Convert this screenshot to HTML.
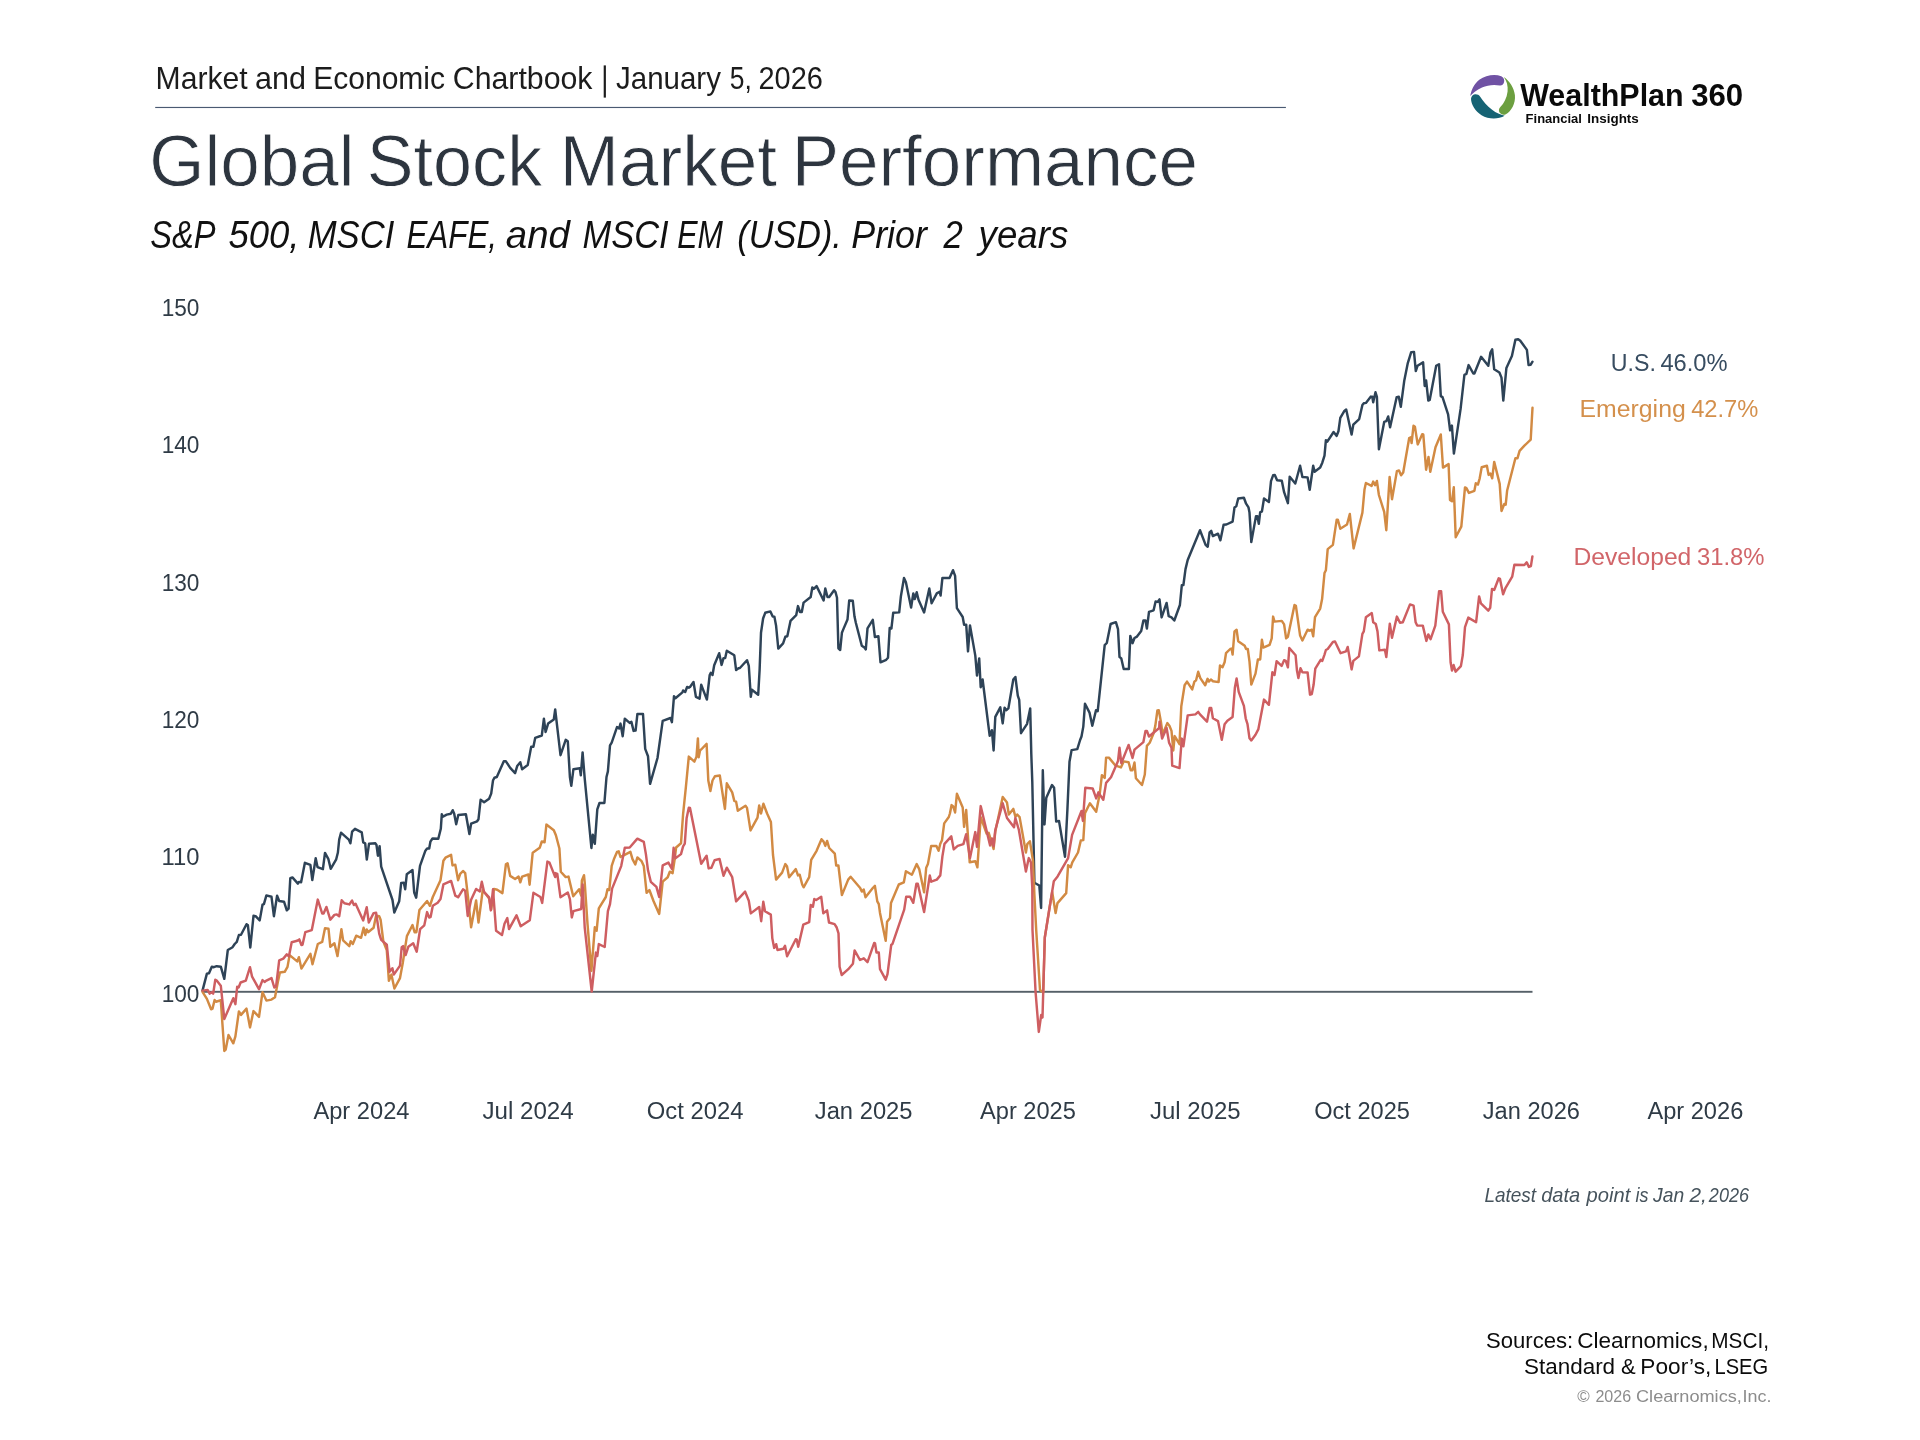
<!DOCTYPE html>
<html><head><meta charset="utf-8"><title>Global Stock Market Performance</title>
<style>
html,body{margin:0;padding:0;background:#fff;}
body{width:1920px;height:1440px;overflow:hidden;font-family:"Liberation Sans",sans-serif;}
svg{position:absolute;left:0;top:0;display:block;will-change:transform;}
svg text{font-family:"Liberation Sans",sans-serif;}
</style></head><body>
<svg width="1920" height="1440" viewBox="0 0 1920 1440">
<rect width="1920" height="1440" fill="#ffffff"/>
<rect x="155.2" y="106.9" width="1130.7" height="1.15" fill="#4a5a72"/>
<rect x="603.7" y="65.4" width="2.2" height="32.2" fill="#1c1c1c"/>
<!-- logo -->
<g transform="translate(1460,64) scale(0.045851)">
<path d="M225,700 C235,600 300,440 420,345 C560,240 760,215 900,265 C960,290 975,350 960,400 C945,450 910,475 870,470 C740,440 600,460 480,510 C360,560 270,640 225,700 Z" fill="#7052a4"/>
<path d="M955,285 C1080,370 1180,520 1198,680 C1215,860 1120,1030 1000,1095 C950,1120 890,1100 862,1060 C840,1025 845,975 880,940 C960,860 1020,740 1038,600 C1050,480 1020,370 955,285 Z" fill="#6c9f40"/>
<path d="M340,662 C290,660 245,700 240,760 C240,880 330,1030 470,1120 C620,1210 830,1215 975,1130 C880,1110 790,1070 700,1000 C590,915 500,810 440,715 C415,680 380,662 340,662 Z" fill="#166374"/>
</g>
<!-- baseline -->
<rect x="202.5" y="990.85" width="1330" height="1.9" fill="#566068"/>
<!-- series -->
<g fill="none" stroke-width="2.45" stroke-linejoin="round" stroke-linecap="round">
<path d="M202.5,990.6 L206.9,973.6 L209.0,973.2 L211.8,966.7 L213.9,967.2 L216.7,966.2 L220.8,966.7 L224.3,978.8 L227.8,950.0 L232.6,947.2 L234.7,944.0 L236.8,941.9 L238.9,935.0 L241.0,934.7 L246.5,924.2 L247.9,925.3 L250.3,947.5 L253.5,915.8 L255.6,916.2 L259.7,920.4 L262.5,904.7 L263.9,904.2 L266.4,895.4 L271.5,896.8 L273.9,916.2 L277.1,895.8 L279.2,901.0 L284.0,901.7 L286.8,910.3 L288.6,908.6 L290.3,878.1 L292.4,877.4 L297.9,883.6 L298.9,881.9 L301.1,882.2 L304.9,862.8 L310.4,864.9 L312.3,880.0 L315.7,858.3 L317.5,867.1 L322.9,869.2 L325.0,852.9 L328.3,858.8 L330.7,868.8 L336.2,859.3 L337.9,852.5 L339.2,839.6 L341.0,832.7 L348.8,839.6 L350.4,843.3 L352.1,831.7 L355.0,828.8 L361.7,832.3 L363.2,842.3 L365.2,843.3 L366.8,859.6 L369.0,843.8 L375.4,843.3 L376.5,845.0 L377.9,855.7 L379.6,846.2 L381.2,866.7 L392.5,900.0 L394.3,912.5 L399.2,901.2 L401.2,882.9 L403.8,882.7 L405.2,889.2 L406.8,874.2 L412.5,870.0 L414.2,892.5 L416.2,897.7 L420.0,865.8 L425.4,850.7 L427.1,848.5 L429.2,848.5 L430.4,841.7 L432.5,838.5 L438.3,838.8 L440.8,828.8 L441.8,814.2 L442.9,816.7 L446.7,814.6 L450.8,813.8 L452.7,810.2 L454.2,813.8 L456.2,824.2 L458.3,815.0 L465.9,814.3 L469.4,834.0 L471.1,823.7 L477.1,821.3 L478.5,819.2 L480.6,799.8 L484.1,802.3 L489.1,798.8 L491.2,793.6 L493.0,780.5 L494.4,777.7 L496.8,777.0 L503.8,761.3 L505.9,761.3 L510.2,767.9 L515.1,773.1 L517.2,766.1 L520.3,762.3 L522.1,769.3 L527.7,765.1 L531.2,746.8 L533.4,746.8 L535.2,737.9 L541.8,735.5 L543.9,718.7 L545.6,732.0 L548.1,723.6 L553.8,719.4 L555.2,709.5 L560.5,755.2 L565.7,739.8 L567.8,741.2 L569.9,777.0 L571.3,785.8 L573.4,769.3 L579.8,768.3 L580.8,775.3 L582.6,752.4 L584.7,778.4 L591.4,848.0 L592.8,834.7 L594.8,843.8 L597.3,809.4 L599.5,803.0 L604.4,803.0 L606.5,777.0 L607.9,771.4 L610.0,745.4 L611.7,742.6 L617.0,727.1 L619.1,728.5 L620.5,723.6 L622.7,736.2 L624.8,718.7 L629.7,722.9 L631.4,721.9 L633.6,730.9 L635.6,730.6 L637.4,714.0 L643.0,714.0 L645.2,748.9 L648.0,756.2 L650.1,783.8 L657.5,758.0 L662.7,720.8 L670.5,718.0 L671.9,722.2 L674.0,696.2 L675.4,698.3 L682.4,692.4 L683.1,690.5 L685.2,692.0 L687.1,687.0 L688.8,687.7 L690.0,687.0 L693.5,682.0 L695.9,696.8 L699.6,698.6 L701.2,684.8 L706.9,699.6 L709.7,675.0 L710.8,672.9 L712.5,675.0 L714.2,665.2 L719.2,653.2 L721.6,664.9 L723.5,658.1 L725.2,658.1 L726.8,650.8 L734.3,655.3 L736.1,670.1 L738.5,668.2 L739.9,668.0 L747.0,660.2 L748.8,665.9 L750.8,696.8 L751.9,689.8 L758.2,694.7 L759.6,670.1 L761.0,632.8 L763.1,618.5 L765.2,612.8 L770.4,611.4 L772.7,616.6 L774.4,616.6 L776.1,625.8 L778.3,648.6 L783.1,643.4 L785.3,636.8 L787.3,636.3 L790.5,620.9 L796.2,615.2 L798.0,606.1 L800.0,612.0 L801.8,612.0 L803.6,602.6 L810.7,597.0 L812.3,587.5 L813.8,588.9 L816.6,586.1 L823.6,600.5 L825.3,588.5 L827.5,597.0 L829.2,597.0 L834.1,590.3 L835.5,592.0 L837.0,597.7 L838.4,648.3 L840.2,650.0 L841.9,632.8 L843.6,628.6 L847.5,619.5 L849.2,600.5 L852.8,600.8 L854.5,616.6 L855.9,623.0 L861.8,645.8 L864.4,647.6 L865.8,649.4 L867.5,628.3 L872.8,619.9 L874.9,637.0 L878.4,636.3 L880.5,662.3 L886.2,659.8 L888.0,657.8 L889.7,627.9 L891.4,628.6 L893.2,612.8 L899.2,612.4 L900.9,596.2 L904.0,578.0 L905.9,582.2 L911.1,607.5 L913.3,593.4 L914.7,599.1 L916.7,592.3 L918.5,599.8 L924.1,612.4 L929.3,588.5 L931.6,603.3 L936.8,593.4 L939.6,591.8 L940.6,595.5 L942.4,578.0 L949.5,578.0 L953.0,570.2 L955.1,575.9 L956.9,608.2 L962.7,617.0 L964.1,624.7 L966.2,624.7 L968.0,651.4 L970.0,625.4 L975.3,655.6 L977.0,675.6 L979.2,658.4 L980.7,687.3 L982.6,679.5 L989.7,735.8 L991.9,730.2 L993.6,750.5 L995.3,716.8 L1000.3,707.4 L1002.7,723.4 L1004.6,707.7 L1006.2,710.2 L1008.4,708.4 L1013.3,679.5 L1015.4,677.0 L1017.8,695.7 L1019.2,699.9 L1021.0,733.2 L1027.1,723.8 L1030.2,708.4 L1031.3,754.1 L1032.3,782.2 L1034.4,882.7 L1039.3,885.5 L1041.1,908.0 L1042.8,770.2 L1044.5,824.4 L1046.3,797.7 L1052.0,785.0 L1054.1,787.8 L1056.2,821.6 L1059.0,820.9 L1065.0,856.7 L1067.4,809.6 L1069.5,761.8 L1071.6,750.1 L1077.3,749.1 L1080.1,740.0 L1081.5,736.5 L1083.3,726.6 L1085.0,703.7 L1089.5,712.6 L1092.3,725.7 L1096.0,710.2 L1097.7,711.2 L1104.7,645.1 L1106.8,643.0 L1110.6,624.0 L1115.9,622.2 L1118.0,629.2 L1119.5,657.0 L1121.3,658.4 L1123.7,669.0 L1128.9,669.0 L1130.3,635.9 L1132.5,643.2 L1134.5,638.0 L1137.0,636.6 L1141.2,631.0 L1143.4,620.5 L1145.5,620.5 L1146.9,628.6 L1149.0,611.8 L1153.6,610.3 L1155.6,601.5 L1157.8,601.9 L1159.5,599.4 L1161.6,617.4 L1166.6,602.9 L1168.7,616.2 L1171.5,617.4 L1174.3,620.5 L1179.9,605.0 L1181.8,585.3 L1183.4,585.0 L1185.5,569.1 L1187.7,560.0 L1200.0,530.2 L1205.6,544.9 L1207.7,546.8 L1209.6,532.3 L1211.2,530.9 L1212.9,536.1 L1218.0,533.7 L1220.4,540.3 L1223.6,524.8 L1226.4,524.5 L1232.6,521.7 L1234.5,507.4 L1236.3,506.2 L1238.2,498.5 L1243.9,497.8 L1246.1,503.7 L1248.5,507.4 L1249.5,512.6 L1251.3,542.1 L1256.0,516.1 L1257.4,516.1 L1258.8,523.8 L1260.2,512.2 L1261.9,511.6 L1264.0,498.5 L1268.9,502.0 L1271.0,481.2 L1273.1,475.3 L1274.8,475.0 L1277.1,480.2 L1281.8,480.7 L1284.1,492.2 L1287.9,503.2 L1289.7,476.7 L1295.3,483.5 L1300.1,465.8 L1302.4,477.0 L1307.6,477.4 L1309.7,489.7 L1313.2,465.8 L1314.6,471.8 L1320.2,467.6 L1322.3,462.7 L1324.5,455.6 L1325.9,440.2 L1327.3,441.6 L1333.6,432.0 L1336.7,435.9 L1338.5,431.0 L1340.3,417.9 L1344.1,411.3 L1346.2,409.5 L1351.6,434.5 L1353.3,424.7 L1359.2,419.1 L1362.4,405.0 L1363.8,403.3 L1365.9,402.9 L1370.9,396.6 L1372.3,396.8 L1373.2,402.2 L1375.5,392.3 L1376.9,396.8 L1378.9,449.3 L1384.2,421.9 L1386.3,421.2 L1388.2,416.5 L1390.1,427.2 L1396.7,397.1 L1398.8,396.7 L1400.8,406.8 L1404.3,380.4 L1407.8,363.1 L1411.2,352.2 L1414.0,351.9 L1415.8,371.1 L1417.5,365.8 L1423.1,362.4 L1424.7,386.0 L1426.1,380.4 L1428.3,400.6 L1429.7,399.9 L1436.2,365.8 L1439.0,364.2 L1440.8,396.1 L1442.5,397.1 L1448.1,414.4 L1450.1,430.4 L1451.9,425.6 L1453.9,453.6 L1460.6,408.9 L1464.4,374.9 L1466.4,373.9 L1468.6,365.1 L1473.3,373.5 L1474.4,373.5 L1481.1,356.8 L1488.3,365.8 L1490.4,352.6 L1492.2,349.4 L1494.2,369.3 L1499.4,372.5 L1501.5,377.6 L1503.3,400.6 L1506.4,367.9 L1511.9,356.1 L1515.4,339.7 L1518.2,339.2 L1520.3,340.8 L1526.9,349.9 L1528.6,365.1 L1530.7,364.7 L1532.5,361.7" stroke="#2e4357"/>
<path d="M202.5,991.9 L206.9,998.9 L211.1,1009.3 L212.5,1008.6 L214.6,1000.0 L216.0,1001.7 L220.8,1000.3 L224.3,1051.0 L225.7,1049.6 L228.5,1035.0 L233.3,1043.3 L235.4,1036.4 L238.9,1011.4 L241.0,1014.9 L246.5,1008.6 L250.0,1027.4 L253.5,1011.1 L259.0,1016.9 L262.5,992.2 L266.4,1000.6 L271.5,999.6 L275.0,997.2 L277.8,982.2 L279.9,972.5 L284.7,971.8 L287.5,966.9 L289.6,955.1 L297.2,961.4 L298.9,957.2 L301.4,968.6 L310.4,953.8 L312.5,964.2 L317.8,944.0 L322.2,941.9 L325.0,928.3 L328.5,928.8 L330.3,946.8 L334.4,943.3 L337.5,956.1 L341.4,929.2 L343.1,940.3 L349.3,946.1 L350.7,941.2 L352.8,944.0 L356.2,935.7 L361.1,937.8 L363.6,927.8 L365.3,935.0 L366.7,929.4 L368.1,932.2 L373.6,927.8 L376.1,915.6 L379.2,916.2 L380.6,919.7 L383.3,941.2 L386.8,950.3 L388.9,980.8 L391.4,974.6 L394.4,988.5 L400.0,978.1 L402.8,962.8 L406.9,936.1 L412.5,925.0 L414.6,932.2 L416.4,932.2 L419.4,910.0 L427.1,901.0 L429.9,905.8 L432.8,897.0 L440.5,880.2 L443.4,860.8 L445.5,857.7 L451.1,854.8 L452.5,865.4 L455.3,864.7 L458.1,880.2 L460.2,873.8 L463.0,871.0 L465.2,873.1 L468.0,897.0 L471.1,927.3 L476.1,900.5 L478.5,922.6 L482.7,890.3 L486.2,894.5 L489.1,898.4 L491.2,909.7 L494.0,888.9 L497.2,889.7 L502.4,893.1 L505.9,864.4 L507.6,863.3 L510.2,875.9 L515.1,879.0 L518.6,876.6 L520.3,882.3 L522.1,876.6 L528.4,874.5 L529.6,884.7 L532.7,852.7 L539.7,847.8 L541.8,841.5 L544.6,842.2 L546.4,824.6 L553.8,830.2 L555.9,835.2 L559.4,848.5 L560.8,871.7 L565.7,877.1 L568.5,876.6 L573.2,896.3 L579.1,889.3 L581.2,895.6 L581.9,880.4 L584.0,875.2 L584.7,882.3 L587.5,923.8 L591.4,970.9 L594.8,927.3 L596.6,930.8 L598.8,908.3 L605.8,897.0 L607.5,889.3 L609.3,890.0 L611.7,865.8 L614.2,858.4 L617.0,852.0 L618.7,851.3 L620.5,857.0 L624.1,855.1 L630.4,851.8 L632.5,859.1 L635.3,864.4 L637.4,857.4 L641.6,861.2 L643.8,866.1 L646.6,892.8 L649.4,890.0 L653.6,901.2 L659.2,913.9 L662.7,881.6 L667.7,877.3 L669.8,871.7 L672.6,873.1 L674.7,859.1 L676.1,847.5 L681.0,843.3 L683.1,814.1 L685.9,786.9 L688.8,756.6 L694.4,761.6 L696.5,756.6 L697.9,738.4 L698.7,757.3 L700.1,750.2 L701.2,749.5 L706.6,743.9 L708.3,780.5 L710.4,791.0 L712.5,780.5 L715.0,776.2 L719.8,775.5 L724.9,808.9 L726.8,783.3 L732.2,792.4 L734.3,800.9 L736.1,801.6 L737.8,810.7 L745.5,805.8 L747.0,807.9 L750.5,830.4 L757.5,817.7 L759.2,805.5 L761.0,813.5 L763.4,803.7 L767.1,813.5 L770.9,822.0 L773.0,855.0 L776.1,879.6 L782.1,872.6 L785.3,864.1 L787.0,866.2 L789.1,877.2 L795.8,869.1 L798.0,875.4 L799.7,874.7 L802.2,884.5 L803.6,887.3 L809.2,877.2 L811.2,859.9 L816.6,850.8 L821.5,839.2 L823.6,841.6 L825.3,845.9 L827.1,840.9 L829.2,848.0 L834.8,853.6 L836.2,865.5 L838.4,865.5 L841.9,895.1 L848.2,879.6 L850.6,876.8 L860.2,888.0 L861.8,891.6 L863.7,889.5 L865.5,897.2 L872.8,888.0 L874.9,885.9 L877.3,901.4 L878.8,904.2 L880.0,912.9 L885.7,940.8 L887.1,921.7 L890.0,917.9 L891.0,902.9 L898.8,884.5 L903.8,882.4 L905.9,871.2 L911.9,874.7 L916.7,864.1 L919.2,869.1 L924.1,892.3 L926.2,867.7 L927.9,864.1 L931.2,845.9 L936.4,845.9 L938.6,850.8 L940.3,843.8 L942.0,840.2 L944.2,823.4 L948.8,817.0 L949.9,813.5 L951.6,805.1 L953.2,806.5 L955.1,812.5 L956.9,793.8 L962.7,807.5 L964.1,826.9 L966.2,810.0 L969.7,862.3 L975.3,861.2 L977.4,867.3 L980.7,817.1 L986.6,833.5 L988.7,832.8 L993.6,849.0 L995.3,831.4 L1002.7,797.0 L1007.0,802.6 L1008.8,814.5 L1013.3,808.9 L1015.4,816.6 L1017.2,814.5 L1019.6,817.1 L1025.9,852.5 L1027.3,844.1 L1029.9,841.2 L1033.0,860.9 L1034.4,894.7 L1036.2,930.0 L1040.0,990.0 L1043.2,992.5 L1044.8,937.5 L1050.0,905.0 L1052.2,891.9 L1055.6,913.1 L1057.5,903.1 L1066.2,893.1 L1068.1,865.2 L1070.7,867.3 L1072.3,862.3 L1078.0,852.5 L1080.8,840.5 L1083.3,840.1 L1085.0,813.1 L1089.9,803.3 L1096.2,811.7 L1099.8,793.4 L1101.9,775.2 L1104.7,778.0 L1106.1,757.6 L1108.9,757.6 L1115.2,765.3 L1120.9,767.4 L1123.7,761.4 L1128.6,762.2 L1130.7,770.2 L1132.5,770.2 L1134.5,762.5 L1135.9,778.2 L1142.0,785.0 L1144.8,774.5 L1146.9,745.9 L1149.7,742.8 L1153.6,733.2 L1155.3,725.9 L1157.4,710.5 L1158.8,710.2 L1160.9,721.7 L1162.6,734.4 L1167.3,723.1 L1169.4,725.7 L1171.5,730.9 L1173.3,750.5 L1174.7,736.1 L1179.5,744.2 L1181.3,706.2 L1184.6,685.2 L1187.0,681.6 L1192.2,689.4 L1194.4,681.6 L1196.1,680.2 L1198.2,671.8 L1200.3,678.1 L1205.2,685.2 L1207.6,678.8 L1208.8,681.6 L1210.9,679.5 L1213.0,681.2 L1218.6,682.1 L1220.0,665.4 L1222.5,667.3 L1224.6,662.3 L1226.0,653.2 L1230.2,649.0 L1231.6,648.6 L1232.6,654.6 L1234.5,631.4 L1236.6,629.7 L1238.2,641.2 L1244.7,645.8 L1246.1,649.0 L1247.8,649.0 L1249.5,661.6 L1251.3,684.6 L1255.5,673.6 L1257.9,659.5 L1260.2,659.5 L1261.9,639.8 L1263.3,647.6 L1269.6,644.8 L1271.7,638.4 L1273.1,616.6 L1274.5,621.6 L1281.8,620.9 L1284.1,624.4 L1286.1,638.4 L1287.9,636.8 L1294.5,605.0 L1295.9,605.8 L1300.1,635.6 L1302.4,640.5 L1307.6,629.7 L1309.7,630.7 L1311.8,629.7 L1313.2,636.3 L1315.0,617.1 L1320.2,608.6 L1322.1,599.1 L1324.5,573.0 L1325.9,570.2 L1327.7,549.1 L1332.9,544.9 L1336.7,519.6 L1337.8,519.6 L1340.3,528.8 L1347.0,524.5 L1349.8,514.0 L1353.6,548.4 L1362.4,512.6 L1364.5,489.4 L1365.9,483.0 L1371.6,485.9 L1373.2,481.6 L1375.1,485.2 L1376.9,480.9 L1378.9,495.0 L1384.2,511.9 L1386.3,530.2 L1389.6,477.0 L1392.0,499.2 L1396.9,471.1 L1399.0,470.4 L1401.1,475.3 L1403.2,472.5 L1409.2,438.0 L1410.7,437.3 L1411.6,443.0 L1413.5,425.8 L1414.9,426.8 L1417.7,444.4 L1422.2,434.2 L1423.3,434.5 L1426.1,469.7 L1428.5,457.0 L1430.3,471.8 L1435.5,447.2 L1440.8,434.5 L1443.0,467.6 L1448.6,464.1 L1450.0,499.9 L1452.0,501.3 L1453.8,487.3 L1455.7,537.2 L1461.3,526.6 L1465.0,487.4 L1466.4,488.1 L1468.9,492.9 L1474.4,490.8 L1475.8,483.2 L1477.9,484.6 L1479.7,478.3 L1481.7,467.2 L1486.9,465.8 L1488.6,474.9 L1490.4,473.5 L1492.2,478.3 L1494.2,461.9 L1499.7,483.9 L1501.5,511.0 L1504.3,504.0 L1505.7,504.7 L1507.1,490.8 L1515.4,458.2 L1517.5,458.2 L1519.6,450.8 L1524.4,445.7 L1530.7,439.7 L1532.5,407.8" stroke="#d28a43"/>
<path d="M202.5,990.6 L207.6,989.9 L209.7,993.6 L211.8,992.2 L213.2,993.6 L215.3,979.7 L216.7,980.6 L220.8,985.7 L224.3,1019.0 L233.3,998.2 L235.4,1004.2 L237.2,986.7 L238.6,987.5 L240.6,982.5 L245.8,980.6 L250.0,967.2 L252.1,976.7 L259.0,989.2 L262.5,980.1 L264.6,981.9 L266.4,980.6 L271.5,978.1 L274.3,987.5 L276.1,986.4 L279.2,960.3 L283.3,958.6 L286.8,954.4 L288.9,956.5 L291.7,942.2 L297.2,940.8 L299.3,939.4 L301.4,945.0 L302.5,944.7 L305.3,932.2 L311.8,930.1 L317.8,899.6 L322.2,913.5 L323.6,913.5 L326.4,906.9 L330.3,919.7 L334.4,914.9 L336.8,914.4 L339.2,916.2 L341.7,900.3 L344.4,903.3 L349.3,904.4 L352.1,900.6 L353.9,905.1 L355.6,903.8 L363.2,920.4 L366.7,907.2 L368.8,922.5 L373.6,913.1 L376.1,912.8 L379.2,933.6 L381.2,939.9 L386.8,944.7 L389.6,971.8 L392.4,968.3 L393.8,974.6 L400.0,965.6 L401.7,947.2 L403.1,946.1 L405.6,955.1 L408.3,946.8 L413.2,943.3 L416.7,951.7 L420.1,929.2 L424.3,925.3 L427.1,912.1 L429.2,917.6 L430.6,916.9 L432.8,905.8 L437.7,902.7 L440.5,899.1 L443.4,884.4 L451.1,880.9 L455.3,895.6 L458.1,897.3 L463.0,889.3 L465.2,890.7 L467.7,916.0 L471.1,899.8 L476.1,888.9 L479.9,891.4 L481.8,881.8 L484.1,892.1 L489.1,897.3 L490.8,910.4 L493.0,889.3 L496.1,930.8 L502.0,935.0 L504.5,923.8 L507.3,918.1 L509.0,929.1 L516.5,915.3 L520.7,926.3 L529.8,920.2 L533.4,892.8 L540.4,897.0 L542.2,902.9 L547.4,861.6 L549.5,862.6 L555.2,877.1 L555.4,873.1 L557.3,873.8 L560.5,897.3 L567.8,892.5 L569.9,899.1 L571.8,917.4 L573.4,911.1 L581.2,909.0 L582.6,884.4 L584.7,927.3 L591.7,991.5 L595.9,952.6 L597.3,956.1 L598.8,944.1 L604.7,947.0 L607.9,911.1 L610.0,904.1 L612.1,888.6 L621.2,866.1 L624.8,847.8 L629.7,847.5 L636.7,839.4 L637.4,838.7 L643.8,841.9 L645.9,854.1 L648.0,870.3 L650.8,881.8 L656.4,886.9 L659.2,897.0 L662.7,865.4 L668.4,862.6 L671.9,868.9 L673.6,847.8 L675.4,858.4 L681.0,854.1 L683.1,846.4 L684.8,843.6 L686.6,818.3 L688.8,807.7 L690.0,807.9 L701.2,863.7 L706.6,855.7 L708.6,868.4 L711.4,867.7 L714.6,860.3 L719.5,858.9 L723.5,875.8 L726.8,867.7 L732.2,877.2 L736.1,901.4 L745.1,891.6 L748.8,900.7 L750.8,913.4 L759.2,907.0 L761.2,921.2 L763.3,901.7 L765.0,911.2 L770.8,914.6 L772.3,938.3 L774.2,947.9 L776.2,944.2 L777.5,950.0 L783.3,948.8 L785.0,945.8 L787.1,956.2 L795.8,939.2 L796.7,939.6 L798.2,946.7 L803.3,924.6 L809.2,922.1 L810.7,905.0 L812.9,906.7 L814.3,899.0 L816.2,900.0 L821.2,896.7 L823.3,913.3 L827.1,910.4 L829.0,922.5 L834.6,924.2 L836.7,927.5 L838.5,933.3 L839.6,966.7 L841.7,975.0 L848.3,969.2 L852.9,963.8 L854.6,950.4 L860.0,960.0 L863.8,958.3 L867.5,962.1 L874.2,942.9 L875.0,943.3 L876.5,952.5 L878.8,952.5 L880.0,969.2 L885.7,979.6 L887.5,974.2 L891.2,945.0 L892.5,943.8 L904.2,909.6 L906.2,896.7 L910.0,896.7 L913.3,902.8 L916.4,883.8 L917.8,883.8 L924.1,912.0 L929.8,875.4 L931.2,881.7 L936.8,879.6 L940.3,875.4 L942.4,856.4 L944.5,843.8 L951.3,836.4 L953.7,849.4 L957.7,845.8 L963.4,844.1 L966.2,834.2 L970.0,858.1 L975.3,832.1 L977.0,846.9 L980.7,806.1 L990.1,845.5 L991.9,838.4 L993.6,846.2 L995.3,830.0 L1002.7,803.3 L1007.0,818.0 L1014.0,827.2 L1015.4,818.0 L1018.9,830.0 L1025.9,871.5 L1028.8,858.1 L1030.9,862.3 L1032.3,887.7 L1032.5,930.0 L1035.6,992.5 L1038.8,1031.9 L1041.2,1015.0 L1042.5,1017.5 L1044.8,937.5 L1053.8,881.2 L1057.6,876.4 L1068.1,858.1 L1072.1,834.9 L1081.5,811.0 L1082.9,820.9 L1085.3,787.8 L1092.7,788.5 L1096.2,798.4 L1098.4,792.3 L1103.3,799.8 L1106.1,782.9 L1111.0,777.3 L1118.0,761.1 L1119.5,747.7 L1121.3,763.2 L1128.6,744.9 L1132.5,758.0 L1134.5,749.6 L1143.4,742.1 L1145.5,730.9 L1146.9,730.9 L1149.0,736.5 L1159.2,728.0 L1159.5,721.7 L1162.1,738.6 L1166.6,728.0 L1169.1,742.8 L1171.5,747.7 L1172.2,765.6 L1179.5,768.1 L1181.8,738.6 L1183.4,746.3 L1187.7,715.4 L1195.4,714.4 L1198.2,711.9 L1200.0,714.4 L1207.0,721.7 L1209.6,708.0 L1211.2,708.0 L1212.9,718.3 L1218.0,721.1 L1221.8,739.7 L1224.6,724.2 L1227.4,720.7 L1232.6,716.9 L1234.9,687.4 L1236.6,678.5 L1238.7,691.9 L1243.9,705.9 L1245.7,718.3 L1247.5,724.2 L1249.5,738.3 L1251.3,740.4 L1255.5,734.8 L1258.4,729.1 L1264.0,699.6 L1268.9,704.8 L1272.4,672.2 L1274.5,675.0 L1276.6,661.2 L1281.6,665.9 L1284.1,660.2 L1285.8,660.9 L1287.9,667.3 L1289.3,648.0 L1295.6,655.3 L1297.0,670.8 L1298.4,678.1 L1300.5,668.2 L1302.4,672.2 L1307.6,672.5 L1310.0,694.7 L1311.8,694.0 L1313.6,684.8 L1315.3,668.7 L1320.7,659.8 L1322.3,660.9 L1324.5,654.6 L1325.9,650.0 L1327.7,649.0 L1332.9,642.0 L1335.0,641.5 L1340.6,653.2 L1346.0,651.4 L1347.7,646.9 L1351.6,669.4 L1353.3,660.9 L1358.9,656.4 L1362.4,633.9 L1363.8,631.4 L1365.9,617.3 L1371.8,613.1 L1373.2,622.3 L1375.8,624.1 L1377.5,631.4 L1379.3,650.4 L1384.9,649.7 L1386.3,657.0 L1389.8,623.7 L1392.0,637.7 L1396.9,616.6 L1400.0,622.8 L1402.8,622.2 L1410.0,604.4 L1413.6,605.6 L1415.6,622.2 L1417.2,625.6 L1422.8,625.6 L1426.4,640.9 L1428.3,634.4 L1430.6,639.1 L1435.3,625.6 L1439.1,591.1 L1441.1,591.1 L1442.8,611.7 L1448.9,624.4 L1450.6,662.2 L1452.0,670.6 L1453.6,665.0 L1455.6,671.7 L1460.9,666.1 L1462.8,655.0 L1465.0,627.2 L1468.3,617.6 L1476.1,622.2 L1479.1,596.4 L1480.9,603.3 L1488.3,610.6 L1490.2,607.8 L1492.0,588.9 L1494.2,590.0 L1498.7,578.3 L1500.0,578.9 L1503.1,594.2 L1505.6,587.8 L1512.2,576.7 L1514.4,564.7 L1524.4,565.0 L1526.7,562.4 L1528.9,566.9 L1530.9,566.1 L1532.4,556.4" stroke="#ce5e61"/>
</g>
<!-- text -->
<text x="155.62" y="89.4" font-size="30.5" fill="#1c1c1c" textLength="92.06" lengthAdjust="spacingAndGlyphs">Market</text>
<text x="255.00" y="89.4" font-size="30.5" fill="#1c1c1c" textLength="50.98" lengthAdjust="spacingAndGlyphs">and</text>
<text x="313.23" y="89.4" font-size="30.5" fill="#1c1c1c" textLength="131.82" lengthAdjust="spacingAndGlyphs">Economic</text>
<text x="452.80" y="89.4" font-size="30.5" fill="#1c1c1c" textLength="139.66" lengthAdjust="spacingAndGlyphs">Chartbook</text>
<text x="616.00" y="89.4" font-size="30.5" fill="#1c1c1c" textLength="104.88" lengthAdjust="spacingAndGlyphs">January</text>
<text x="729.70" y="89.4" font-size="30.5" fill="#1c1c1c" textLength="22.07" lengthAdjust="spacingAndGlyphs">5,</text>
<text x="758.45" y="89.4" font-size="30.5" fill="#1c1c1c" textLength="64.47" lengthAdjust="spacingAndGlyphs">2026</text>
<text x="149.22" y="186.4" font-size="71.6" fill="#2d353f" textLength="205.26" lengthAdjust="spacingAndGlyphs" stroke="#ffffff" stroke-width="0.8">Global</text>
<text x="366.86" y="186.4" font-size="71.6" fill="#2d353f" textLength="175.34" lengthAdjust="spacingAndGlyphs" stroke="#ffffff" stroke-width="0.8">Stock</text>
<text x="559.83" y="186.4" font-size="71.6" fill="#2d353f" textLength="217.27" lengthAdjust="spacingAndGlyphs" stroke="#ffffff" stroke-width="0.8">Market</text>
<text x="791.64" y="186.4" font-size="71.6" fill="#2d353f" textLength="406.35" lengthAdjust="spacingAndGlyphs" stroke="#ffffff" stroke-width="0.8">Performance</text>
<text x="150.36" y="247.7" font-size="39.0" fill="#111111" textLength="65.26" lengthAdjust="spacingAndGlyphs" font-style="italic">S&amp;P</text>
<text x="228.39" y="247.7" font-size="39.0" fill="#111111" textLength="71.02" lengthAdjust="spacingAndGlyphs" font-style="italic">500,</text>
<text x="307.71" y="247.7" font-size="39.0" fill="#111111" textLength="86.55" lengthAdjust="spacingAndGlyphs" font-style="italic">MSCI</text>
<text x="406.39" y="247.7" font-size="39.0" fill="#111111" textLength="90.70" lengthAdjust="spacingAndGlyphs" font-style="italic">EAFE,</text>
<text x="505.79" y="247.7" font-size="39.0" fill="#111111" textLength="64.12" lengthAdjust="spacingAndGlyphs" font-style="italic">and</text>
<text x="582.51" y="247.7" font-size="39.0" fill="#111111" textLength="86.14" lengthAdjust="spacingAndGlyphs" font-style="italic">MSCI</text>
<text x="677.22" y="247.7" font-size="39.0" fill="#111111" textLength="45.78" lengthAdjust="spacingAndGlyphs" font-style="italic">EM</text>
<text x="737.32" y="247.7" font-size="39.0" fill="#111111" textLength="104.45" lengthAdjust="spacingAndGlyphs" font-style="italic">(USD).</text>
<text x="851.28" y="247.7" font-size="39.0" fill="#111111" textLength="75.68" lengthAdjust="spacingAndGlyphs" font-style="italic">Prior</text>
<text x="943.48" y="247.7" font-size="39.0" fill="#111111" textLength="19.28" lengthAdjust="spacingAndGlyphs" font-style="italic">2</text>
<text x="978.61" y="247.7" font-size="39.0" fill="#111111" textLength="89.66" lengthAdjust="spacingAndGlyphs" font-style="italic">years</text>
<text x="1610.85" y="371.3" font-size="24.7" fill="#384d61" textLength="45.10" lengthAdjust="spacingAndGlyphs">U.S.</text>
<text x="1660.39" y="371.3" font-size="24.7" fill="#384d61" textLength="67.18" lengthAdjust="spacingAndGlyphs">46.0%</text>
<text x="1579.59" y="417.3" font-size="24.7" fill="#d4904c" textLength="106.15" lengthAdjust="spacingAndGlyphs">Emerging</text>
<text x="1691.19" y="417.3" font-size="24.7" fill="#d4904c" textLength="67.18" lengthAdjust="spacingAndGlyphs">42.7%</text>
<text x="1573.40" y="564.8" font-size="24.7" fill="#d16569" textLength="117.93" lengthAdjust="spacingAndGlyphs">Developed</text>
<text x="1696.97" y="564.8" font-size="24.7" fill="#d16569" textLength="67.60" lengthAdjust="spacingAndGlyphs">31.8%</text>
<text x="1484.39" y="1201.7" font-size="20.3" fill="#46535c" textLength="51.74" lengthAdjust="spacingAndGlyphs" font-style="italic">Latest</text>
<text x="1541.20" y="1201.7" font-size="20.3" fill="#46535c" textLength="39.09" lengthAdjust="spacingAndGlyphs" font-style="italic">data</text>
<text x="1586.59" y="1201.7" font-size="20.3" fill="#46535c" textLength="43.67" lengthAdjust="spacingAndGlyphs" font-style="italic">point</text>
<text x="1635.59" y="1201.7" font-size="20.3" fill="#46535c" textLength="12.94" lengthAdjust="spacingAndGlyphs" font-style="italic">is</text>
<text x="1653.10" y="1201.7" font-size="20.3" fill="#46535c" textLength="31.21" lengthAdjust="spacingAndGlyphs" font-style="italic">Jan</text>
<text x="1689.50" y="1201.7" font-size="20.3" fill="#46535c" textLength="17.29" lengthAdjust="spacingAndGlyphs" font-style="italic">2,</text>
<text x="1708.87" y="1201.7" font-size="20.3" fill="#46535c" textLength="40.11" lengthAdjust="spacingAndGlyphs" font-style="italic">2026</text>
<text x="1486.01" y="1347.7" font-size="22.5" fill="#0c0c0c" textLength="87.22" lengthAdjust="spacingAndGlyphs">Sources:</text>
<text x="1577.19" y="1347.7" font-size="22.5" fill="#0c0c0c" textLength="131.47" lengthAdjust="spacingAndGlyphs">Clearnomics,</text>
<text x="1711.27" y="1347.7" font-size="22.5" fill="#0c0c0c" textLength="57.70" lengthAdjust="spacingAndGlyphs">MSCI,</text>
<text x="1524.00" y="1373.7" font-size="22.5" fill="#0c0c0c" textLength="91.11" lengthAdjust="spacingAndGlyphs">Standard</text>
<text x="1620.98" y="1373.7" font-size="22.5" fill="#0c0c0c" textLength="14.66" lengthAdjust="spacingAndGlyphs">&amp;</text>
<text x="1640.39" y="1373.7" font-size="22.5" fill="#0c0c0c" textLength="70.87" lengthAdjust="spacingAndGlyphs">Poor’s,</text>
<text x="1714.51" y="1373.7" font-size="22.5" fill="#0c0c0c" textLength="53.64" lengthAdjust="spacingAndGlyphs">LSEG</text>
<text x="1577.18" y="1401.8" font-size="17.2" fill="#8c8c8c" textLength="12.49" lengthAdjust="spacingAndGlyphs">©</text>
<text x="1595.39" y="1401.8" font-size="17.2" fill="#8c8c8c" textLength="35.73" lengthAdjust="spacingAndGlyphs">2026</text>
<text x="1636.00" y="1401.8" font-size="17.2" fill="#8c8c8c" textLength="105.84" lengthAdjust="spacingAndGlyphs">Clearnomics,</text>
<text x="1742.53" y="1401.8" font-size="17.2" fill="#8c8c8c" textLength="28.89" lengthAdjust="spacingAndGlyphs">Inc.</text>
<text x="1520.20" y="105.8" font-size="31.5" fill="#0a0a0a" textLength="163.41" lengthAdjust="spacingAndGlyphs" font-weight="bold">WealthPlan</text>
<text x="1691.18" y="105.8" font-size="31.5" fill="#0a0a0a" textLength="51.94" lengthAdjust="spacingAndGlyphs" font-weight="bold">360</text>
<text x="1525.58" y="123.1" font-size="11.9" fill="#0a0a0a" textLength="56.35" lengthAdjust="spacingAndGlyphs" font-weight="bold">Financial</text>
<text x="1587.37" y="123.1" font-size="11.9" fill="#0a0a0a" textLength="51.41" lengthAdjust="spacingAndGlyphs" font-weight="bold">Insights</text>
<text x="313.40" y="1118.8" font-size="24.7" fill="#2f3b46" textLength="96.11" lengthAdjust="spacingAndGlyphs">Apr 2024</text>
<text x="482.39" y="1118.8" font-size="24.7" fill="#2f3b46" textLength="91.32" lengthAdjust="spacingAndGlyphs">Jul 2024</text>
<text x="646.83" y="1118.8" font-size="24.7" fill="#2f3b46" textLength="96.68" lengthAdjust="spacingAndGlyphs">Oct 2024</text>
<text x="814.80" y="1118.8" font-size="24.7" fill="#2f3b46" textLength="97.71" lengthAdjust="spacingAndGlyphs">Jan 2025</text>
<text x="979.99" y="1118.8" font-size="24.7" fill="#2f3b46" textLength="95.91" lengthAdjust="spacingAndGlyphs">Apr 2025</text>
<text x="1150.00" y="1118.8" font-size="24.7" fill="#2f3b46" textLength="90.51" lengthAdjust="spacingAndGlyphs">Jul 2025</text>
<text x="1314.25" y="1118.8" font-size="24.7" fill="#2f3b46" textLength="95.65" lengthAdjust="spacingAndGlyphs">Oct 2025</text>
<text x="1482.80" y="1118.8" font-size="24.7" fill="#2f3b46" textLength="97.11" lengthAdjust="spacingAndGlyphs">Jan 2026</text>
<text x="1647.39" y="1118.8" font-size="24.7" fill="#2f3b46" textLength="95.91" lengthAdjust="spacingAndGlyphs">Apr 2026</text>
<text x="161.67" y="315.9" font-size="24.7" fill="#2f3b46" textLength="37.80" lengthAdjust="spacingAndGlyphs">150</text>
<text x="161.67" y="453.2" font-size="24.7" fill="#2f3b46" textLength="37.80" lengthAdjust="spacingAndGlyphs">140</text>
<text x="161.67" y="590.5" font-size="24.7" fill="#2f3b46" textLength="37.80" lengthAdjust="spacingAndGlyphs">130</text>
<text x="161.67" y="727.8" font-size="24.7" fill="#2f3b46" textLength="37.80" lengthAdjust="spacingAndGlyphs">120</text>
<text x="161.61" y="865.1" font-size="24.7" fill="#2f3b46" textLength="37.91" lengthAdjust="spacingAndGlyphs">110</text>
<text x="161.67" y="1001.5" font-size="24.7" fill="#2f3b46" textLength="37.80" lengthAdjust="spacingAndGlyphs">100</text>
</svg>
</body></html>
